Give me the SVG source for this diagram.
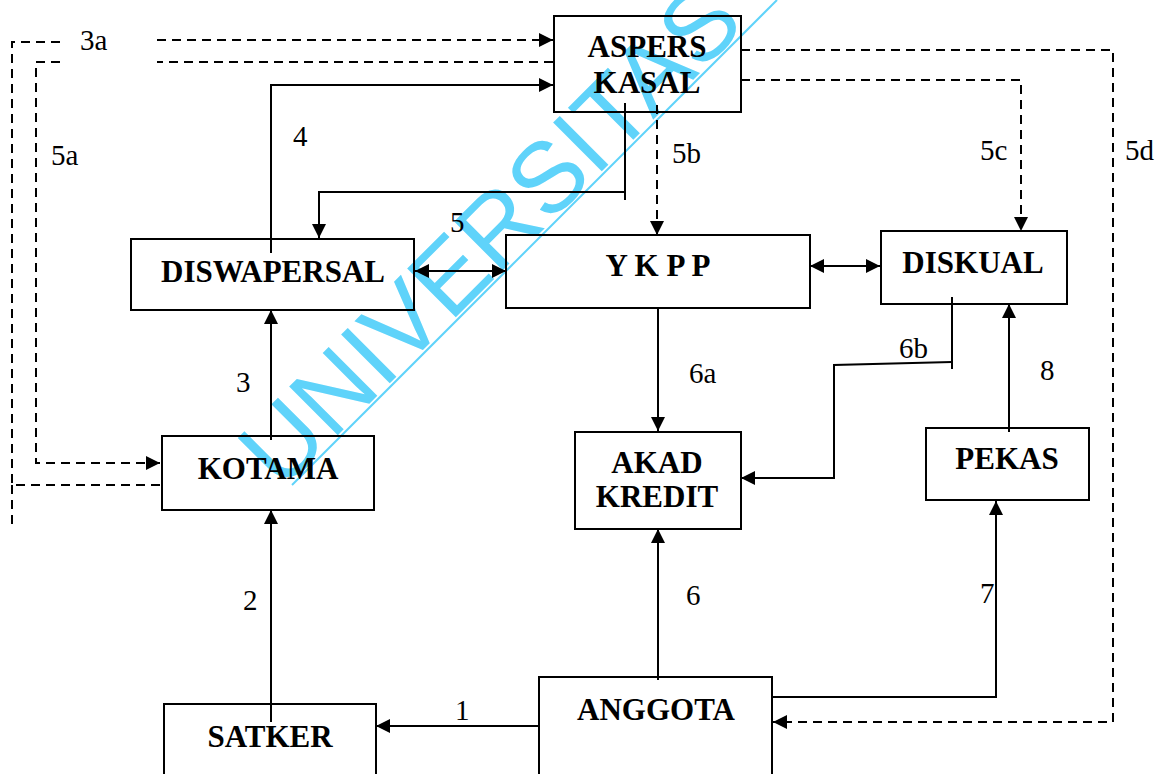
<svg xmlns="http://www.w3.org/2000/svg" width="1159" height="774" viewBox="0 0 1159 774">
<defs>
<style>
.box{fill:none;stroke:#000;stroke-width:2}
.t{font-family:"Liberation Serif","Times New Roman",serif;font-weight:bold;font-size:31px;text-anchor:middle;fill:#000}
.lb{font-family:"Liberation Serif","Times New Roman",serif;font-size:29px;fill:#000}
.s{fill:none;stroke:#000;stroke-width:2}
.d{fill:none;stroke:#000;stroke-width:2;stroke-dasharray:9 6}
.wm{font-family:"Liberation Sans",Arial,sans-serif;font-size:100px;fill:#5fd3fa}
</style>
<marker id="ah" viewBox="0 0 10 10" refX="10" refY="5" markerWidth="7" markerHeight="7" markerUnits="strokeWidth" orient="auto-start-reverse">
<path d="M0,0 L10,5 L0,10 z" fill="#000"/>
</marker>
</defs>
<rect width="1159" height="774" fill="#fff"/>

<g id="watermark">
<line x1="292" y1="485" x2="777" y2="0" stroke="#5fd3fa" stroke-width="2"/>
<text class="wm" transform="translate(281,492) rotate(-45)">UNIVERSITAS</text>
</g>

<g id="connectors">
<!-- 3a: KOTAMA -> ASPERS -->
<path class="d" d="M160,485 H12 V42 H60"/>
<path class="d" d="M12,485 V526"/>
<path class="d" d="M157,40 H553" marker-end="url(#ah)"/>
<!-- 5a: ASPERS -> KOTAMA -->
<path class="d" d="M553,62 H157"/>
<path class="d" d="M60,62 H36 V463 H160" marker-end="url(#ah)"/>
<!-- 4: DISWAPERSAL -> ASPERS -->
<path class="s" d="M271,253 V85 H553" marker-end="url(#ah)"/>
<!-- 5: ASPERS -> DISWAPERSAL -->
<path class="s" d="M625,103 V200"/>
<path class="s" d="M625,192 H319 V238" marker-end="url(#ah)"/>
<!-- 5b -->
<path class="d" d="M657,105 V235" marker-end="url(#ah)"/>
<!-- 5c -->
<path class="d" d="M741,80 H1021 V231" marker-end="url(#ah)"/>
<!-- 5d -->
<path class="d" d="M741,50 H1113 V722 H773" marker-end="url(#ah)"/>
<!-- DISWAPERSAL <-> YKPP -->
<path class="s" d="M415,271 H506" marker-start="url(#ah)" marker-end="url(#ah)"/>
<!-- YKPP <-> DISKUAL -->
<path class="s" d="M810,266 H880" marker-start="url(#ah)" marker-end="url(#ah)"/>
<!-- 6a -->
<path class="s" d="M658,308 V431" marker-end="url(#ah)"/>
<!-- 6b -->
<path class="s" d="M952,297 V369"/>
<path class="s" d="M952,362 L834,365 V478 H741" marker-end="url(#ah)"/>
<!-- 8 -->
<path class="s" d="M1009,432 V304" marker-end="url(#ah)"/>
<!-- 7 -->
<path class="s" d="M773,697 H996 V501" marker-end="url(#ah)"/>
<!-- 6 -->
<path class="s" d="M658,680 V529" marker-end="url(#ah)"/>
<!-- 1 -->
<path class="s" d="M539,726 H376" marker-end="url(#ah)"/>
<!-- 2 -->
<path class="s" d="M271,722 V510" marker-end="url(#ah)"/>
<!-- 3 -->
<path class="s" d="M271,440 V310" marker-end="url(#ah)"/>
</g>

<g id="asperskasal"><rect class="box" x="554" y="16" width="187" height="96"/><text class="t" x="647" y="57">ASPERS</text><text class="t" x="647" y="93">KASAL</text></g>
<g id="diswapersal"><rect class="box" x="131" y="239" width="283" height="71"/><text class="t" x="273" y="282">DISWAPERSAL</text></g>
<g id="ykpp"><rect class="box" x="506" y="235" width="304" height="73"/><text class="t" x="658" y="276">Y K P P</text></g>
<g id="diskual"><rect class="box" x="881" y="231" width="186" height="73"/><text class="t" x="973" y="273">DISKUAL</text></g>
<g id="akadkredit"><rect class="box" x="575" y="432" width="166" height="97"/><text class="t" x="657" y="473">AKAD</text><text class="t" x="657" y="507">KREDIT</text></g>
<g id="pekas"><rect class="box" x="926" y="428" width="163" height="72"/><text class="t" x="1007" y="469">PEKAS</text></g>
<g id="kotama"><rect class="box" x="162" y="436" width="212" height="74"/><text class="t" x="268" y="479">KOTAMA</text></g>
<g id="satker"><rect class="box" x="164" y="704" width="212" height="80"/><text class="t" x="270" y="747">SATKER</text></g>
<g id="anggota"><rect class="box" x="539" y="677" width="233" height="105"/><text class="t" x="656" y="720">ANGGOTA</text></g>

<g id="labels">
<text class="lb" x="80" y="50">3a</text>
<text class="lb" x="51" y="165">5a</text>
<text class="lb" x="293" y="146">4</text>
<text class="lb" x="672" y="163">5b</text>
<text class="lb" x="450" y="232">5</text>
<text class="lb" x="980" y="160">5c</text>
<text class="lb" x="1125" y="160">5d</text>
<text class="lb" x="689" y="383">6a</text>
<text class="lb" x="899" y="358">6b</text>
<text class="lb" x="1040" y="380">8</text>
<text class="lb" x="236" y="392">3</text>
<text class="lb" x="243" y="610">2</text>
<text class="lb" x="686" y="605">6</text>
<text class="lb" x="980" y="603">7</text>
<text class="lb" x="455" y="720">1</text>
</g>
</svg>
